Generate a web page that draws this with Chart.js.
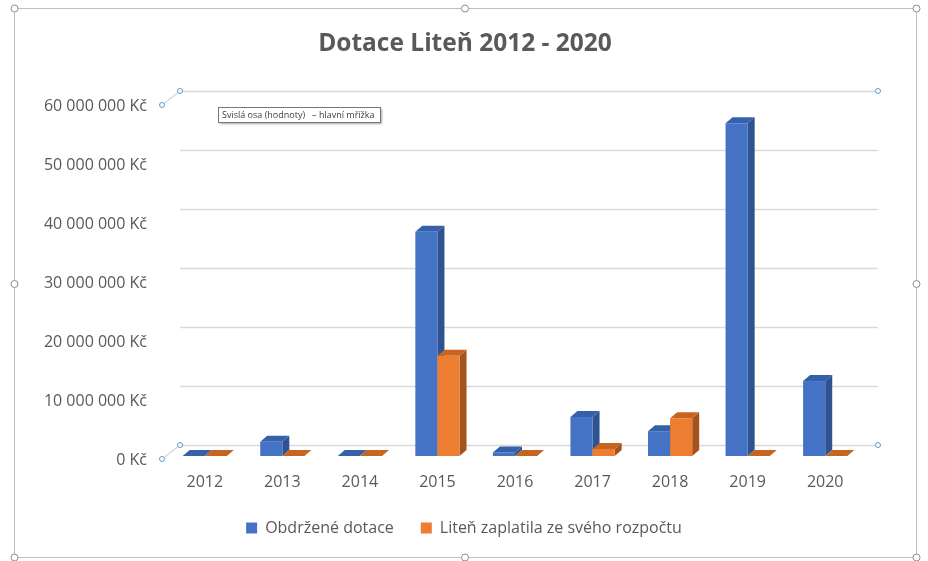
<!DOCTYPE html>
<html>
<head>
<meta charset="utf-8">
<script src="https://cdn.jsdelivr.net/npm/chart.js"></script>
<style>
  html, body { margin: 0; padding: 0; background: #fff; }
  #wrap { width: 928px; height: 561px; position: relative; }
</style>
</head>
<body>
<div id="wrap"><canvas id="dotaceChart" width="928" height="561"></canvas></div>
<script>
// Dotace Liteň 2012 - 2020, 3D sloupce (Excel styl)

const years = ['2012', '2013', '2014', '2015', '2016', '2017', '2018', '2019', '2020'];
const received = [0, 2400000, 0, 38000000, 600000, 6600000, 4200000, 56400000, 12700000];
const ownBudget = [0, 0, 0, 17000000, 0, 1200000, 6400000, 0, 0];
const yTicks = [0, 10000000, 20000000, 30000000, 40000000, 50000000, 60000000];
const chartTitle = 'Dotace Liteň 2012 - 2020';

const FONT = '"Open Sans", "Noto Sans", sans-serif';
const TEXT = '#595959';

// barvy: čelo, bok, vršek
const faces = [
    { front: '#4472C4', side: '#2F5290', top: '#3560AA' },
    { front: '#ED7D31', side: '#A4531E', top: '#C5651F' }
];

function fmtKc(v) {
    return String(v).replace(/\B(?=(\d{3})+(?!\d))/g, ' ') + ' Kč';
}

function handle(ctx, x, y, r, stroke) {
    ctx.beginPath();
    ctx.arc(x, y, r, 0, Math.PI * 2);
    ctx.fillStyle = '#fff';
    ctx.fill();
    ctx.lineWidth = 1;
    ctx.strokeStyle = stroke;
    ctx.stroke();
}

// zadní mřížka + 3D sloupce
const bars3d = {
    id: 'bars3d',
    beforeDatasetsDraw(chart) {
        const ctx = chart.ctx;
        const area = chart.chartArea;
        const ys = chart.scales.y;
        const gx = 14, gy = 11;   // posun zadní stěny
        const dx = 7, dy = 6;     // hloubka sloupce

        ctx.save();
        ctx.strokeStyle = '#D9D9D9';
        ctx.lineWidth = 1.5;
        yTicks.forEach(v => {
            const y = Math.round(ys.getPixelForValue(v) - gy) + 0.5;
            ctx.beginPath();
            ctx.moveTo(area.left + gx, y);
            ctx.lineTo(area.right + gx, y);
            ctx.stroke();
        });
        // hrana podlahy / výběr
        const y0 = ys.getPixelForValue(0), yTop = ys.getPixelForValue(60000000);
        ctx.beginPath();
        ctx.moveTo(area.left - 4, y0 + 3);
        ctx.lineTo(area.left + gx, y0 - gy);
        ctx.moveTo(area.left - 4, yTop + 3);
        ctx.lineTo(area.left + gx, yTop - gy);
        ctx.stroke();

        const metas = chart.data.datasets.map((d, i) => chart.getDatasetMeta(i));
        for (let i = 0; i < years.length; i++) {
            metas.forEach((meta, di) => {
                const el = meta.data[i];
                const p = el.getProps(['x', 'y', 'base', 'width'], true);
                const l = p.x - p.width / 2, r = p.x + p.width / 2;
                const t = p.y, b = p.base;
                const c = faces[di];
                ctx.fillStyle = c.side;
                ctx.beginPath();
                ctx.moveTo(r, t); ctx.lineTo(r + dx, t - dy);
                ctx.lineTo(r + dx, b - dy); ctx.lineTo(r, b);
                ctx.closePath(); ctx.fill();
                ctx.fillStyle = c.top;
                ctx.beginPath();
                ctx.moveTo(l, t); ctx.lineTo(l + dx, t - dy);
                ctx.lineTo(r + dx, t - dy); ctx.lineTo(r, t);
                ctx.closePath(); ctx.fill();
                ctx.fillStyle = c.front;
                ctx.fillRect(l, t, r - l, b - t);
            });
        }

        // úchyty vybrané mřížky
        const blue = '#5B9BD5';
        handle(ctx, area.left - 4, yTop + 3, 2.5, blue);
        handle(ctx, area.left + gx, yTop - gy, 2.5, blue);
        handle(ctx, area.right + gx, yTop - gy, 2.5, blue);
        handle(ctx, area.left - 4, y0 + 3, 2.5, blue);
        handle(ctx, area.left + gx, y0 - gy, 2.5, blue);
        handle(ctx, area.right + gx, y0 - gy, 2.5, blue);
        ctx.restore();
        return false;
    }
};

// nadpis, rámeček grafu, úchyty a popisek
const frame = {
    id: 'frame',
    afterDraw(chart) {
        const ctx = chart.ctx;
        ctx.save();
        ctx.fillStyle = TEXT;
        ctx.font = 'bold 24.5px ' + FONT;
        ctx.textAlign = 'center';
        ctx.textBaseline = 'middle';
        ctx.fillText(chartTitle, 465, 44);
        ctx.textAlign = 'left';

        ctx.strokeStyle = '#BFBFBF';
        ctx.lineWidth = 1;
        ctx.strokeRect(14.5, 8.5, 902, 549);
        const hx = [14.5, 465, 916.5], hy = [8.5, 284, 557.5];
        hx.forEach((x, a) => hy.forEach((y, b) => {
            if (a === 1 && b === 1) return;
            handle(ctx, x, y, 3.5, '#8C8C8C');
        }));

        // tooltip
        ctx.shadowColor = 'rgba(0,0,0,0.35)';
        ctx.shadowOffsetX = 2;
        ctx.shadowOffsetY = 2;
        ctx.shadowBlur = 2;
        ctx.fillStyle = '#fff';
        ctx.fillRect(218, 107, 162, 15);
        ctx.shadowColor = 'transparent';
        ctx.strokeStyle = '#767676';
        ctx.strokeRect(218.5, 107.5, 162, 15);
        ctx.fillStyle = '#404040';
        ctx.font = '9px ' + FONT;
        ctx.textBaseline = 'middle';
        ctx.fillText('Svislá osa (hodnoty)   – hlavní mřížka', 222, 115);
        ctx.restore();
    }
};

new Chart(document.getElementById('dotaceChart'), {
    type: 'bar',
    data: {
        labels: years,
        datasets: [
            {
                label: 'Obdržené dotace',
                data: received,
                backgroundColor: faces[0].front,
                borderWidth: 0,
                categoryPercentage: 0.57,
                barPercentage: 1.0
            },
            {
                label: 'Liteň zaplatila ze svého rozpočtu',
                data: ownBudget,
                backgroundColor: faces[1].front,
                borderWidth: 0,
                categoryPercentage: 0.57,
                barPercentage: 1.0
            }
        ]
    },
    options: {
        responsive: false,
        animation: false,
        devicePixelRatio: 1,
        layout: { padding: { left: 0, right: 0, top: 102, bottom: 15 } },
        plugins: {
            title: { display: false },
            legend: {
                position: 'bottom',
                labels: {
                    color: TEXT,
                    font: { family: FONT, size: 16 },
                    boxWidth: 11,
                    boxHeight: 11,
                    padding: 27
                }
            },
            tooltip: { enabled: false }
        },
        scales: {
            x: {
                afterFit(scale) { scale.height = 37; },
                grid: { display: false, drawTicks: false },
                border: { display: false },
                ticks: {
                    color: TEXT,
                    font: { family: FONT, size: 16 },
                    padding: 17
                }
            },
            y: {
                min: 0,
                max: 60000000,
                afterFit(scale) { scale.width = 166; },
                afterBuildTicks(scale) { scale.ticks = yTicks.map(v => ({ value: v })); },
                grid: { display: false },
                border: { display: false },
                ticks: {
                    color: TEXT,
                    font: { family: FONT, size: 16 },
                    padding: 11,
                    labelOffset: 4,
                    callback: v => fmtKc(v)
                }
            },
            // prázdné místo vpravo (zadní stěna)
            yRight: {
                position: 'right',
                afterFit(scale) { scale.width = 64; },
                grid: { display: false },
                border: { display: false },
                ticks: { display: false }
            }
        }
    },
    plugins: [bars3d, frame]
});
</script>
</body>
</html>
